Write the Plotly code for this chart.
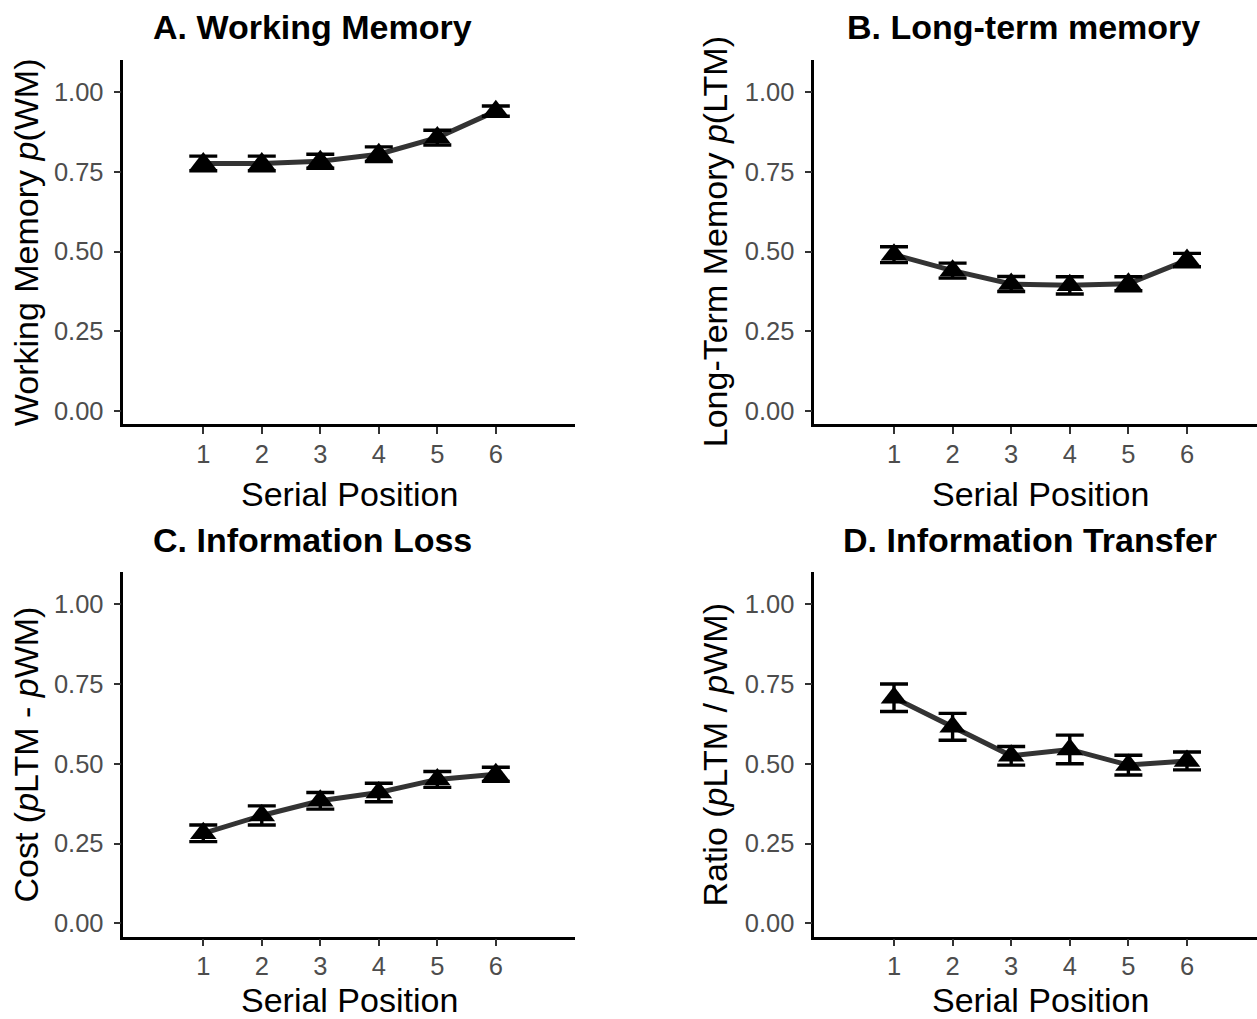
import plotly.graph_objects as go

positions = [1, 2, 3, 4, 5, 6]
tick_vals_y = [0.0, 0.25, 0.5, 0.75, 1.0]
tick_text_y = ["0.00", "0.25", "0.50", "0.75", "1.00"]

wm_mean = [0.776, 0.776, 0.783, 0.805, 0.857, 0.940]
wm_err = [0.023, 0.023, 0.022, 0.023, 0.023, 0.016]

ltm_mean = [0.490, 0.440, 0.398, 0.394, 0.399, 0.473]
ltm_err = [0.025, 0.0235, 0.0235, 0.027, 0.022, 0.021]

cost_mean = [0.282, 0.338, 0.384, 0.410, 0.451, 0.467]
cost_err = [0.026, 0.030, 0.026, 0.029, 0.025, 0.022]

ratio_mean = [0.707, 0.616, 0.525, 0.545, 0.496, 0.509]
ratio_err = [0.043, 0.042, 0.029, 0.045, 0.031, 0.028]

titles = ["A. Working Memory", "B. Long-term memory", "C. Information Loss", "D. Information Transfer"]
ytitles = ["Working Memory <i>p</i>(WM)", "Long-Term Memory <i>p</i>(LTM)",
           "Cost (<i>p</i>LTM - <i>p</i>WM)", "Ratio (<i>p</i>LTM / <i>p</i>WM)"]
xtitle = "Serial Position"

W, H = 1257, 1019
FONT = "Liberation Sans, Arial, sans-serif"

panels = [
    dict(mean=wm_mean, err=wm_err, xd=[123.4, 575.4], yd=[60.1, 424.4], xr=[-0.365, 7.36],
         title_xy=(312, 27), ytitle_x=26, xtitle_xy=(349, 494)),
    dict(mean=ltm_mean, err=ltm_err, xd=[814.3, 1257], yd=[60.1, 424.4], xr=[-0.36, 7.195],
         title_xy=(1023, 27), ytitle_x=715, xtitle_xy=(1040, 494)),
    dict(mean=cost_mean, err=cost_err, xd=[123.4, 575.4], yd=[572.4, 936.7], xr=[-0.365, 7.36],
         title_xy=(312, 540), ytitle_x=26, xtitle_xy=(349, 1000)),
    dict(mean=ratio_mean, err=ratio_err, xd=[814.3, 1257], yd=[572.4, 936.7], xr=[-0.36, 7.195],
         title_xy=(1030, 540), ytitle_x=715, xtitle_xy=(1040, 1000)),
]

fig = go.Figure()
layout = dict(
    width=W, height=H, margin=dict(l=0, r=0, t=0, b=0),
    paper_bgcolor="white", plot_bgcolor="white", showlegend=False,
    font=dict(family=FONT, color="black"),
)
annotations = []

for i, p in enumerate(panels):
    n = "" if i == 0 else str(i + 1)
    xa, ya = "x" + n, "y" + n
    fig.add_trace(go.Scatter(x=positions, y=p["mean"], mode="lines",
                             line=dict(color="#333333", width=5),
                             xaxis=xa, yaxis=ya, hoverinfo="skip"))
    fig.add_trace(go.Scatter(x=positions, y=p["mean"], mode="markers",
                             marker=dict(symbol="triangle-up", size=23, color="black"),
                             error_y=dict(type="data", array=p["err"], color="black",
                                          thickness=3.4, width=14),
                             xaxis=xa, yaxis=ya))
    xd = [p["xd"][0] / W, p["xd"][1] / W]
    yd = [1 - p["yd"][1] / H, 1 - p["yd"][0] / H]
    axis_common = dict(showgrid=False, zeroline=False, showline=True, linecolor="black",
                       linewidth=2.5, ticks="outside", ticklen=7, tickwidth=2.2,
                       tickcolor="#333333",
                       tickfont=dict(family=FONT, size=25.5, color="#4d4d4d"))
    layout["xaxis" + n] = dict(axis_common, domain=xd, range=p["xr"], anchor=ya,
                               tickmode="array", tickvals=positions,
                               ticktext=[str(v) for v in positions], ticklabelstandoff=-2)
    layout["yaxis" + n] = dict(axis_common, domain=yd, range=[-0.042, 1.1], anchor=xa,
                               tickmode="array", tickvals=tick_vals_y,
                               ticktext=tick_text_y, ticklabelstandoff=5)
    tx, ty = p["title_xy"]
    annotations.append(dict(text="<b>" + titles[i] + "</b>", x=tx / W, y=1 - ty / H,
                            xref="paper", yref="paper", xanchor="center", yanchor="middle",
                            showarrow=False, font=dict(family=FONT, size=34, color="black")))
    ymid = (p["yd"][0] + p["yd"][1]) / 2
    annotations.append(dict(text=ytitles[i], x=p["ytitle_x"] / W, y=1 - ymid / H,
                            xref="paper", yref="paper", xanchor="center", yanchor="middle",
                            textangle=-90, showarrow=False,
                            font=dict(family=FONT, size=34, color="black")))
    xx, xy = p["xtitle_xy"]
    annotations.append(dict(text=xtitle, x=xx / W, y=1 - xy / H,
                            xref="paper", yref="paper", xanchor="center", yanchor="middle",
                            showarrow=False, font=dict(family=FONT, size=34, color="black")))

layout["annotations"] = annotations
fig.update_layout(**layout)
fig.write_html("out.html")
